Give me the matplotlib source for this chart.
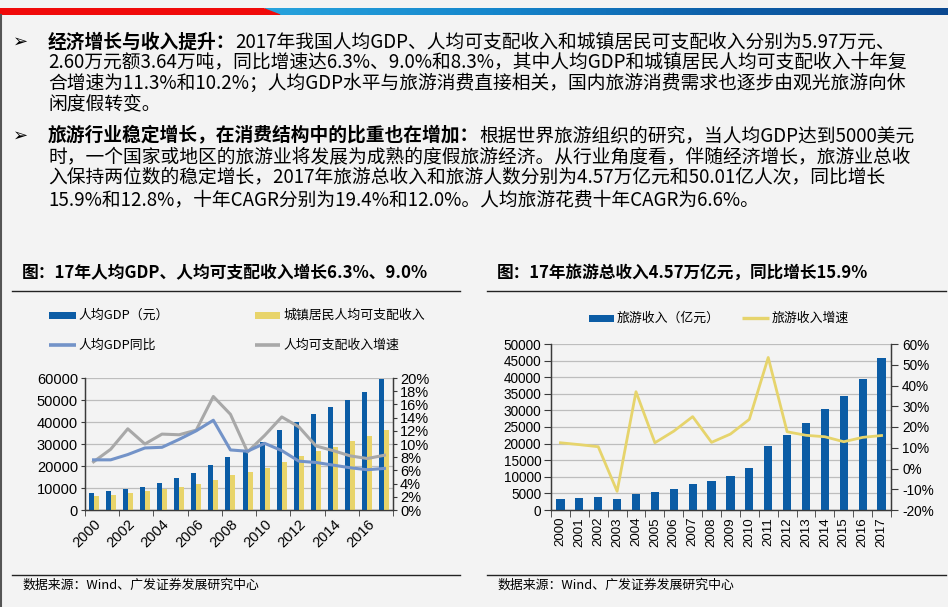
import matplotlib
matplotlib.use('Agg')
import matplotlib.pyplot as plt
import numpy as np
from matplotlib.patches import Rectangle, Polygon
from matplotlib.lines import Line2D
from matplotlib.ticker import FuncFormatter, MultipleLocator, FixedLocator
from matplotlib.colors import LinearSegmentedColormap

W, H = 948, 607
CJK = ['Noto Sans CJK SC', 'DejaVu Sans']
plt.rcParams['font.family'] = CJK
NUMF = ['Liberation Sans', 'DejaVu Sans']

# ---------------- data ----------------
years = list(range(2000, 2018))
gdp_pc = [7942, 8717, 9506, 10666, 12487, 14368, 16738, 20494, 24100, 26180,
          30808, 36302, 39874, 43684, 47005, 50028, 53680, 59660]
urban_income = [6280, 6860, 7703, 8472, 9422, 10493, 11759, 13786, 15781, 17175,
                19109, 21810, 24565, 26955, 28844, 31195, 33616, 36396]
gdp_yoy = [0.076, 0.076, 0.084, 0.094, 0.095, 0.107, 0.120, 0.136, 0.091, 0.089,
           0.101, 0.090, 0.074, 0.072, 0.068, 0.064, 0.061, 0.063]
income_yoy = [0.073, 0.092, 0.123, 0.100, 0.115, 0.114, 0.121, 0.172, 0.145, 0.088,
              0.113, 0.141, 0.126, 0.097, 0.090, 0.082, 0.078, 0.083]
tour_rev = [3175, 3522, 3878, 3442, 4711, 5286, 6230, 7771, 8749, 10184,
            12580, 19305, 22706, 26276, 30312, 34195, 39390, 45661]
tour_yoy = [0.124, 0.115, 0.105, -0.110, 0.370, 0.124, 0.180, 0.250, 0.126, 0.166,
            0.237, 0.535, 0.177, 0.160, 0.153, 0.129, 0.150, 0.159]

left_title = '图：17年人均GDP、人均可支配收入增长6.3%、9.0%'
right_title = '图：17年旅游总收入4.57万亿元，同比增长15.9%'
source = '数据来源：Wind、广发证券发展研究中心'
left_legend = ['人均GDP（元）', '城镇居民人均可支配收入', '人均GDP同比', '人均可支配收入增速']
right_legend = ['旅游收入（亿元）', '旅游收入增速']

bullets = [
    ('经济增长与收入提升：',
     ['2017年我国人均GDP、人均可支配收入和城镇居民可支配收入分别为5.97万元、',
      '2.60万元额3.64万吨，同比增速达6.3%、9.0%和8.3%，其中人均GDP和城镇居民人均可支配收入十年复',
      '合增速为11.3%和10.2%；人均GDP水平与旅游消费直接相关，国内旅游消费需求也逐步由观光旅游向休',
      '闲度假转变。']),
    ('旅游行业稳定增长，在消费结构中的比重也在增加：',
     ['根据世界旅游组织的研究，当人均GDP达到5000美元',
      '时，一个国家或地区的旅游业将发展为成熟的度假旅游经济。从行业角度看，伴随经济增长，旅游业总收',
      '入保持两位数的稳定增长，2017年旅游总收入和旅游人数分别为4.57万亿元和50.01亿人次，同比增长',
      '15.9%和12.8%，十年CAGR分别为19.4%和12.0%。人均旅游花费十年CAGR为6.6%。']),
]

# ---------------- style ----------------
BG = '#F3F3F3'
BLUE = '#0B5CA5'
YEL = '#E8D46A'
LBLUE = '#7393C8'
GRAY = '#A8A8A8'
YLINE = '#E6D46C'
GRID = '#BDBDBD'
SPINE = '#3A3A3A'

fig = plt.figure(figsize=(W / 100, H / 100), dpi=100, facecolor=BG)
renderer = fig.canvas.get_renderer()


def fx(x):
    return x / W


def fy(y):
    return 1 - y / H


def ax_rect(l, t, r, b):
    return [l / W, 1 - b / H, (r - l) / W, (b - t) / H]


# top stripe
strip = fig.add_axes(ax_rect(0, 8, W, 15))
strip.set_axis_off()
grad = np.linspace(0, 1, 256).reshape(1, -1)
cm = LinearSegmentedColormap.from_list('b', ['#27A3DD', '#1586CC', '#0D5EA8', '#0A4890'])
strip.imshow(grad, aspect='auto', cmap=cm, extent=[265, W, 0, 1])
strip.add_patch(Polygon([[0, 0], [0, 1], [262, 1], [280, 0]], closed=True, color='#F00A0A'))
strip.set_xlim(0, W)
strip.set_ylim(0, 1)

# left border
fig.add_artist(Line2D([fx(1), fx(1)], [fy(15), fy(607)], transform=fig.transFigure,
                      color='#555555', lw=1.5))

# ---------------- bullets ----------------
FS = 13.5
line_y = [[42, 62, 83, 104], [136, 157, 178, 200]]
for (bold, lines), ys in zip(bullets, line_y):
    fig.text(fx(13), fy(ys[0]), '➢', family=['DejaVu Sans'], fontsize=13, va='center', ha='left')
    t = fig.text(fx(48), fy(ys[0]), bold, fontsize=FS, fontweight='bold', va='center', ha='left')
    bb = t.get_window_extent(renderer)
    fig.text(bb.x1 / W, fy(ys[0]), lines[0], fontsize=FS, va='center', ha='left')
    for s, y in zip(lines[1:], ys[1:]):
        fig.text(fx(48), fy(y), s, fontsize=FS, va='center', ha='left')

# ---------------- titles / rules / source ----------------
fig.text(fx(22), fy(273), left_title, fontsize=12.1, fontweight='bold', va='center')
fig.text(fx(497), fy(273), right_title, fontsize=12.0, fontweight='bold', va='center')
for x0, x1 in [(12, 460), (487, 946)]:
    fig.add_artist(Line2D([fx(x0), fx(x1)], [fy(291)] * 2, transform=fig.transFigure, color='#222222', lw=1.0))
    fig.add_artist(Line2D([fx(x0), fx(x1)], [fy(575)] * 2, transform=fig.transFigure, color='#222222', lw=1.0))
fig.text(fx(22), fy(585), source, fontsize=9.3, va='center')
fig.text(fx(497), fy(585), source, fontsize=9.3, va='center')

# ---------------- legends ----------------
LFS = 9.3
def leg_rect(x0, x1, y, color):
    fig.add_artist(Rectangle((fx(x0), fy(y + 3.5)), (x1 - x0) / W, 7 / H,
                             transform=fig.transFigure, color=color, lw=0))

def leg_line(x0, x1, y, color, lw):
    fig.add_artist(Line2D([fx(x0), fx(x1)], [fy(y)] * 2, transform=fig.transFigure,
                          color=color, lw=lw, solid_capstyle='butt'))

leg_rect(49, 76, 315, BLUE)
fig.text(fx(78), fy(315), left_legend[0], fontsize=LFS, va='center')
leg_rect(255, 280, 315, YEL)
fig.text(fx(283), fy(315), left_legend[1], fontsize=LFS, va='center')
leg_line(49, 76, 345, LBLUE, 2.6)
fig.text(fx(78), fy(345), left_legend[2], fontsize=LFS, va='center')
leg_line(255, 280, 345, GRAY, 2.6)
fig.text(fx(283), fy(345), left_legend[3], fontsize=LFS, va='center')

leg_rect(589, 614, 318, BLUE)
fig.text(fx(617), fy(318), right_legend[0], fontsize=LFS, va='center')
leg_line(742, 769, 318, YLINE, 2.4)
fig.text(fx(772), fy(318), right_legend[1], fontsize=LFS, va='center')


def style_axes(ax):
    ax.set_facecolor('none')
    ax.spines['top'].set_visible(False)
    for s in ['left', 'right', 'bottom']:
        ax.spines[s].set_color(SPINE)
        ax.spines[s].set_linewidth(0.9)


pct = FuncFormatter(lambda v, p: '{:.0f}%'.format(round(v * 100)))
x = np.arange(len(years))

# ---------------- left chart ----------------
ax1 = fig.add_axes(ax_rect(85, 378, 393, 510))
style_axes(ax1)
ax1.bar(x - 0.145, gdp_pc, 0.29, color=BLUE, zorder=3)
ax1.bar(x + 0.145, urban_income, 0.29, color=YEL, zorder=3)
ax1.set_xlim(-0.5, len(years) - 0.5)
ax1.set_ylim(0, 60000)
ax1.yaxis.set_major_locator(MultipleLocator(10000))
ax1.grid(axis='y', color=GRID, lw=0.9, zorder=0)
ax1.set_axisbelow(True)
ax1.xaxis.set_major_locator(FixedLocator(x[::2]))
ax1.set_xticklabels([str(y) for y in years[::2]], rotation=45, ha='right', va='top',
                    rotation_mode='anchor', family=NUMF, fontsize=10.5)
ax1.xaxis.set_minor_locator(FixedLocator(np.arange(-0.5, len(years), 2)))
ax1.tick_params(axis='x', which='major', length=0, pad=5)
ax1.tick_params(axis='x', which='minor', length=4, color=SPINE, direction='out')
ax1.tick_params(axis='y', length=3, color=SPINE, pad=2)
for lab in ax1.get_yticklabels():
    lab.set_family(NUMF)
    lab.set_fontsize(10.5)

ax1r = ax1.twinx()
style_axes(ax1r)
ax1r.plot(x, income_yoy, color=GRAY, lw=2.2, zorder=4)
ax1r.plot(x, gdp_yoy, color=LBLUE, lw=2.2, zorder=5)
ax1r.set_ylim(0, 0.2)
ax1r.yaxis.set_major_locator(MultipleLocator(0.02))
ax1r.yaxis.set_major_formatter(pct)
ax1r.tick_params(axis='y', length=3, color=SPINE, pad=2)
for lab in ax1r.get_yticklabels():
    lab.set_family(NUMF)
    lab.set_fontsize(10.5)

# ---------------- right chart ----------------
ax2 = fig.add_axes(ax_rect(551, 344, 891, 510))
style_axes(ax2)
ax2.bar(x, tour_rev, 0.43, color=BLUE, zorder=3)
ax2.set_xlim(-0.5, len(years) - 0.5)
ax2.set_ylim(0, 50000)
ax2.yaxis.set_major_locator(MultipleLocator(5000))
ax2.grid(axis='y', color=GRID, lw=0.9, zorder=0)
ax2.set_axisbelow(True)
ax2.xaxis.set_major_locator(FixedLocator(x))
ax2.set_xticklabels([str(y) for y in years], rotation=90, ha='center', va='top',
                    family=NUMF, fontsize=9.6)
ax2.xaxis.set_minor_locator(FixedLocator(np.arange(-0.5, len(years), 1)))
ax2.tick_params(axis='x', which='major', length=0, pad=5)
ax2.tick_params(axis='x', which='minor', length=5, color=SPINE, direction='out')
ax2.tick_params(axis='y', length=5, color=SPINE, pad=2)
for lab in ax2.get_yticklabels():
    lab.set_family(NUMF)
    lab.set_fontsize(9.8)

ax2r = ax2.twinx()
style_axes(ax2r)
ax2r.plot(x, tour_yoy, color=YLINE, lw=2.0, zorder=5)
ax2r.set_ylim(-0.2, 0.6)
ax2r.yaxis.set_major_locator(MultipleLocator(0.1))
ax2r.yaxis.set_major_formatter(pct)
ax2r.tick_params(axis='y', length=5, color=SPINE, pad=3)
for lab in ax2r.get_yticklabels():
    lab.set_family(NUMF)
    lab.set_fontsize(9.8)

fig.savefig('out.png', dpi=100, facecolor=BG)
